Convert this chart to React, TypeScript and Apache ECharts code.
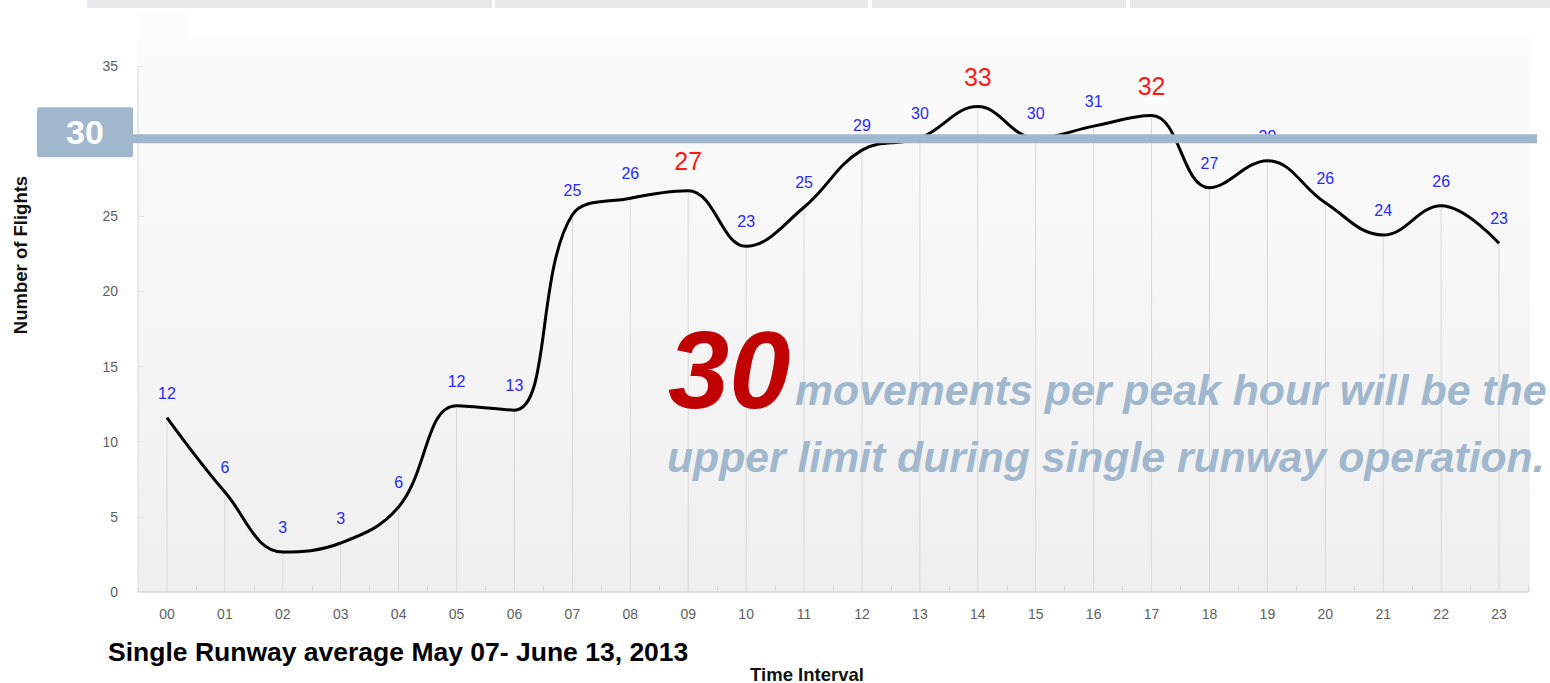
import React, { useEffect, useRef } from "react";
import * as echarts from "echarts";

const hours = ["00","01","02","03","04","05","06","07","08","09","10","11","12","13","14","15","16","17","18","19","20","21","22","23"];
// curve heights
const flights = [11.6, 6.65, 2.66, 3.26, 5.66, 12.4, 12.1, 25.1, 26.2, 26.7, 23.0, 25.6, 29.4, 30.2, 32.3, 30.2, 31.0, 31.7, 26.9, 28.7, 25.9, 23.75, 25.7, 23.2];
// numbers printed above the points
const flightLabels = [12, 6, 3, 3, 6, 12, 13, 25, 26, 27, 23, 25, 29, 30, 33, 30, 31, 32, 27, 29, 26, 24, 26, 23];
const peakHours = ["09", "14", "17"];
const yMin = 0;
const yMax = 35;
const yInterval = 5;
const limitValue = 30;
const captionBig = "30";
const captionLine1 = "movements per peak hour will be the";
const captionLine2 = "upper limit during single runway operation.";
const subtitle = "Single Runway average May 07- June 13, 2013";
const yName = "Number of Flights";
const xName = "Time Interval";

const LIMIT_COLOR = "#a1b7cd";

export default function App() {
  const ref = useRef<HTMLDivElement>(null);
  useEffect(() => {
    if (!ref.current) return;
    const chart = echarts.init(ref.current, null, { renderer: "svg" });
    const lineData = flights.map((v, i) => {
      const peak = peakHours.includes(hours[i]);
      return peak
        ? { value: v, label: { color: "#ff1a1a", fontSize: 25, distance: 17 } }
        : { value: v };
    });
    chart.setOption({
      animation: false,
      backgroundColor: "#ffffff",
      grid: { left: 138, right: 22, top: 66, bottom: 91, containLabel: false },
      xAxis: {
        type: "category",
        data: hours,
        boundaryGap: true,
        axisLine: { show: true, lineStyle: { color: "#d9d9d9", width: 1.5 } },
        axisTick: { show: true, inside: true, length: 6, alignWithLabel: false, lineStyle: { color: "#d9d9d9" } },
        axisLabel: { color: "#5f5f5f", fontSize: 14, fontFamily: "Liberation Sans", margin: 15 },
        splitLine: { show: false },
      },
      yAxis: {
        type: "value",
        min: yMin,
        max: yMax,
        interval: yInterval,
        axisLine: { show: true, lineStyle: { color: "#e3e3e3", width: 1.5 } },
        axisTick: { show: true, inside: true, length: 6, lineStyle: { color: "#e3e3e3" } },
        axisLabel: { color: "#5f5f5f", fontSize: 14, fontFamily: "Liberation Sans", margin: 20 },
        splitLine: { show: false },
      },
      series: [
        {
          type: "bar",
          data: flights,
          barWidth: 1,
          silent: true,
          itemStyle: { color: "#d9d9d9" },
          z: 1,
        },
        {
          type: "line",
          data: lineData,
          smooth: 0.4,
          showSymbol: true,
          symbol: "circle",
          symbolSize: 1,
          itemStyle: { color: "rgba(0,0,0,0)" },
          lineStyle: { color: "#000000", width: 3 },
          z: 5,
          label: {
            show: true,
            position: "top",
            distance: 16,
            color: "#2a2aff",
            fontSize: 16,
            fontFamily: "Liberation Sans",
            formatter: (p: any) => String(flightLabels[p.dataIndex]),
          },
        },
      ],
    });

    const y30 = chart.convertToPixel({ yAxisIndex: 0 }, limitValue) as number;

    chart.setOption({
      graphic: [
        // top strip
        { type: "rect", shape: { x: 87, y: 0, width: 405, height: 8 }, style: { fill: "#e8e9ed" }, z: -5 },
        { type: "rect", shape: { x: 495, y: 0, width: 373, height: 8 }, style: { fill: "#e8e9ed" }, z: -5 },
        { type: "rect", shape: { x: 872, y: 0, width: 254, height: 8 }, style: { fill: "#e8e9ed" }, z: -5 },
        { type: "rect", shape: { x: 1130, y: 0, width: 420, height: 8 }, style: { fill: "#e8e9ed" }, z: -5 },
        // plot background
        { type: "rect", shape: { x: 138, y: 12, width: 50, height: 26 }, style: { fill: "#fcfcfc" }, z: -5 },
        {
          type: "rect",
          shape: { x: 138, y: 36, width: 1392, height: 556 },
          style: {
            fill: new echarts.graphic.LinearGradient(0, 0, 0, 1, [
              { offset: 0, color: "#fcfcfc" },
              { offset: 1, color: "#efefef" },
            ]),
          },
          z: -5,
        },
        // limit line + badge
        { type: "rect", shape: { x: 133, y: y30 - 7, width: 1404, height: 9 }, style: { fill: LIMIT_COLOR }, z: 100 },
        { type: "rect", shape: { x: 37, y: y30 - 34, width: 96, height: 50, r: 2 }, style: { fill: LIMIT_COLOR }, z: 100 },
        {
          type: "text", x: 85, y: y30 - 9, z: 101,
          style: { text: String(limitValue), fill: "#ffffff", font: "bold 34px 'Liberation Sans'", textAlign: "center", textVerticalAlign: "middle" },
        },
        // captions
        {
          type: "text", x: 668, y: 369, z: 50,
          style: { text: captionBig, fill: "#c00000", font: "italic bold 110px 'Liberation Sans'", textAlign: "left", textVerticalAlign: "middle" },
        },
        {
          type: "text", x: 795, y: 390, z: 50,
          style: { text: captionLine1, fill: LIMIT_COLOR, font: "italic bold 42.8px 'Liberation Sans'", textAlign: "left", textVerticalAlign: "middle" },
        },
        {
          type: "text", x: 667, y: 457, z: 50,
          style: { text: captionLine2, fill: LIMIT_COLOR, font: "italic bold 42.7px 'Liberation Sans'", textAlign: "left", textVerticalAlign: "middle" },
        },
        {
          type: "text", x: 108, y: 652, z: 50,
          style: { text: subtitle, fill: "#000000", font: "bold 26.5px 'Liberation Sans'", textAlign: "left", textVerticalAlign: "middle" },
        },
        {
          type: "text", x: 807, y: 674, z: 50,
          style: { text: xName, fill: "#111111", font: "bold 18.5px 'Liberation Sans'", textAlign: "center", textVerticalAlign: "middle" },
        },
        {
          type: "text", x: 20, y: 255, rotation: Math.PI / 2, z: 50,
          style: { text: yName, fill: "#111111", font: "bold 18.5px 'Liberation Sans'", textAlign: "center", textVerticalAlign: "middle" },
        },
      ],
    });
    return () => chart.dispose();
  }, []);
  return <div ref={ref} style={{ position: "fixed", left: 0, top: 0, width: 1550, height: 683 }} />;
}
